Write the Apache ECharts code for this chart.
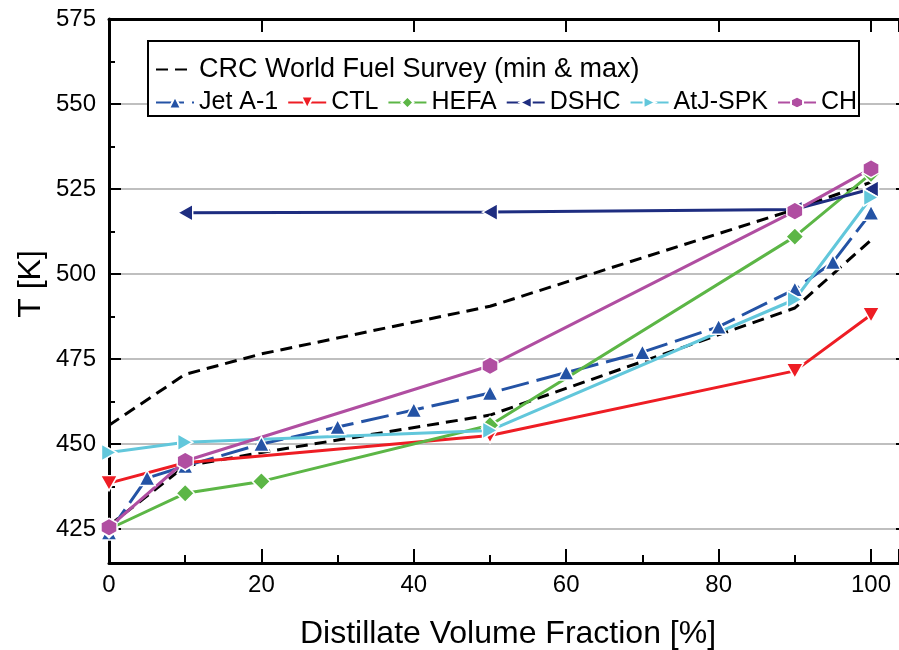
<!DOCTYPE html>
<html><head><meta charset="utf-8">
<script src="https://cdn.jsdelivr.net/npm/echarts@6/dist/echarts.min.js"></script>
<style>html,body{margin:0;padding:0;background:#fff}#c{width:899px;height:650px}</style>
</head><body><div id="c"></div>
<script>
const xTicks = [0, 20, 40, 60, 80, 100];
const yTicks = [425, 450, 475, 500, 525, 550, 575];
const crcName = 'CRC World Fuel Survey (min & max)';
const crcX = [0, 10, 20, 50, 90, 100];
const crcMin = [426, 443.5, 447.5, 458.5, 490, 510];
const crcMax = [455.5, 470.5, 476.5, 490.5, 519, 527];
const jetX = [0, 5, 10, 20, 30, 40, 50, 60, 70, 80, 90, 95, 100];
const jetA1 = [424, 440, 443.5, 450, 455, 460, 465, 471, 477, 484.5, 495.5, 503.5, 518];
const ctlX = [0, 10, 50, 90, 100];
const ctl = [438.5, 444.5, 452.5, 471.5, 488];
const hefaX = [0, 10, 20, 50, 90, 100];
const hefa = [425, 435.5, 439, 455.5, 511, 529.5];
const dshcX = [10, 50, 90, 100];
const dshc = [518, 518.2, 519, 525];
const atjX = [0, 10, 50, 90, 100];
const atj = [447.5, 450.5, 454, 492.5, 522.5];
const chX = [0, 10, 50, 90, 100];
const ch = [425.5, 445, 473, 518.5, 531];

const pair = (xs, ys) => xs.map((x, i) => [x, ys[i]]);
const FONT = '"Liberation Sans", Arial, sans-serif';
const HEX = 'path://M0,-10L8.66,-5L8.66,5L0,10L-8.66,5L-8.66,-5Z';
const UP = 'path://M5,0L10,10L0,10Z';
const DOWN = 'path://M0,0L10,0L5,10Z';
const LEFT = 'path://M0,5L10,0L10,10Z';
const RIGHT = 'path://M10,5L0,0L0,10Z';
const X_MAX = 103.67; // axis continues past the right edge of the picture

function mk(name, xs, ys, color, symbol, size, dash) {
  return {
    name: name, type: 'line', xAxisIndex: 0, yAxisIndex: 0,
    data: pair(xs, ys), symbol: symbol, symbolSize: size, showSymbol: true,
    lineStyle: {color: color, width: 3, type: dash || 'solid'},
    itemStyle: {color: color, borderColor: '#fff', borderWidth: 1.5},
    emphasis: {disabled: true}, animation: false, z: 2
  };
}
const tickStyle = {color: '#000', width: 2};

const chart = echarts.init(document.getElementById('c'), null, {renderer: 'canvas'});
const option = {
  animation: false,
  backgroundColor: '#fff',
  grid: [
    {left: 109, top: 19, right: 0, bottom: 87, containLabel: false, outerBoundsMode: 'none'},
    {left: 109, top: 19, right: 0, bottom: 121, containLabel: false, outerBoundsMode: 'none'}
  ],
  xAxis: [
    {gridIndex: 0, type: 'value', min: 0, max: X_MAX, interval: 20, position: 'bottom',
     name: 'Distillate Volume Fraction [%]', nameLocation: 'middle', nameGap: 55,
     nameTextStyle: {fontFamily: FONT, fontSize: 32, color: '#000', padding: [0, 0, 0, 8]},
     axisLine: {show: true, onZero: false, lineStyle: {color: '#000', width: 3}},
     axisTick: {show: true, inside: true, length: 14, lineStyle: tickStyle},
     axisLabel: {fontFamily: FONT, fontSize: 24, color: '#000', margin: 10,
       formatter: v => xTicks.indexOf(v) >= 0 ? String(v) : ''},
     splitLine: {show: false}},
    {gridIndex: 0, type: 'value', min: 0, max: X_MAX, interval: 20, position: 'top',
     axisLine: {show: true, onZero: false, lineStyle: {color: '#000', width: 3}},
     axisTick: {show: true, inside: true, length: 13, lineStyle: tickStyle},
     axisLabel: {show: false}, splitLine: {show: false}},
    {gridIndex: 0, type: 'value', min: 0, max: X_MAX, interval: 10, position: 'bottom', offset: 0,
     axisLine: {show: false},
     axisTick: {show: true, inside: true, length: 8, lineStyle: tickStyle},
     axisLabel: {show: false}, splitLine: {show: false}},
    {gridIndex: 1, type: 'value', min: 0, max: X_MAX, show: false}
  ],
  yAxis: [
    {gridIndex: 0, type: 'value', min: 415, max: 575, position: 'left',
     name: 'T [K]', nameLocation: 'middle', nameGap: 62,
     nameTextStyle: {fontFamily: FONT, fontSize: 32, color: '#000', padding: [0, 0, 0, 14]},
     axisLine: {show: true, onZero: false, lineStyle: {color: '#000', width: 3}},
     axisTick: {show: false}, axisLabel: {show: false}, splitLine: {show: false}},
    {gridIndex: 1, type: 'value', min: 425, max: 575, interval: 25, position: 'left',
     axisLine: {show: false},
     axisTick: {show: true, inside: true, length: 12, lineStyle: tickStyle},
     minorTick: {show: true, splitNumber: 2, length: 6, lineStyle: tickStyle},
     axisLabel: {fontFamily: FONT, fontSize: 24, color: '#000', margin: 13,
       formatter: v => yTicks.indexOf(v) >= 0 ? String(v) : ''},
     splitLine: {show: true, lineStyle: {color: '#aaaaaa', width: 1.5}}},
    {gridIndex: 1, type: 'value', min: 425, max: 575, interval: 25, position: 'right',
     axisLine: {show: false},
     axisTick: {show: true, inside: true, length: 3, lineStyle: tickStyle},
     axisLabel: {show: false}, splitLine: {show: false}}
  ],
  graphic: [
    {type: 'rect', z: 3, shape: {x: 148, y: 41, width: 711, height: 75},
     style: {fill: '#fff', stroke: '#000', lineWidth: 2}}
  ],
  legend: [
    {data: [{name: crcName, itemStyle: {color: 'rgba(0,0,0,0)', borderWidth: 0}}],
     left: 150, top: 51, itemWidth: 38, itemHeight: 14, itemGap: 8,
     textStyle: {fontFamily: FONT, fontSize: 27, color: '#000'}, selectedMode: false, z: 5},
    {data: ['Jet A-1', 'CTL', 'HEFA', 'DSHC', 'AtJ-SPK', 'CH'], left: 150, top: 85,
     itemWidth: 38, itemHeight: 15, itemGap: 9,
     textStyle: {fontFamily: FONT, fontSize: 25, color: '#000'}, selectedMode: false, z: 5}
  ],
  series: [
    {name: crcName, type: 'line', data: pair(crcX, crcMin), symbol: 'none', showSymbol: false,
     lineStyle: {color: '#000', width: 3, type: [12, 7]}, itemStyle: {color: '#000'}, z: 1},
    {name: crcName, type: 'line', data: pair(crcX, crcMax), symbol: 'none', showSymbol: false,
     lineStyle: {color: '#000', width: 3, type: [12, 7]}, itemStyle: {color: '#000'}, z: 1},
    mk('Jet A-1', jetX, jetA1, '#2453a5', UP, [16, 15], [28, 8]),
    mk('CTL', ctlX, ctl, '#ee1d24', DOWN, [17, 15]),
    mk('HEFA', hefaX, hefa, '#5cb646', 'diamond', [18, 18]),
    mk('DSHC', dshcX, dshc, '#1e2d80', LEFT, [15, 17]),
    mk('AtJ-SPK', atjX, atj, '#62c7db', RIGHT, [15, 17]),
    mk('CH', chX, ch, '#b04ea1', HEX, [16, 18])
  ]
};
chart.setOption(option);
</script>
</body></html>
